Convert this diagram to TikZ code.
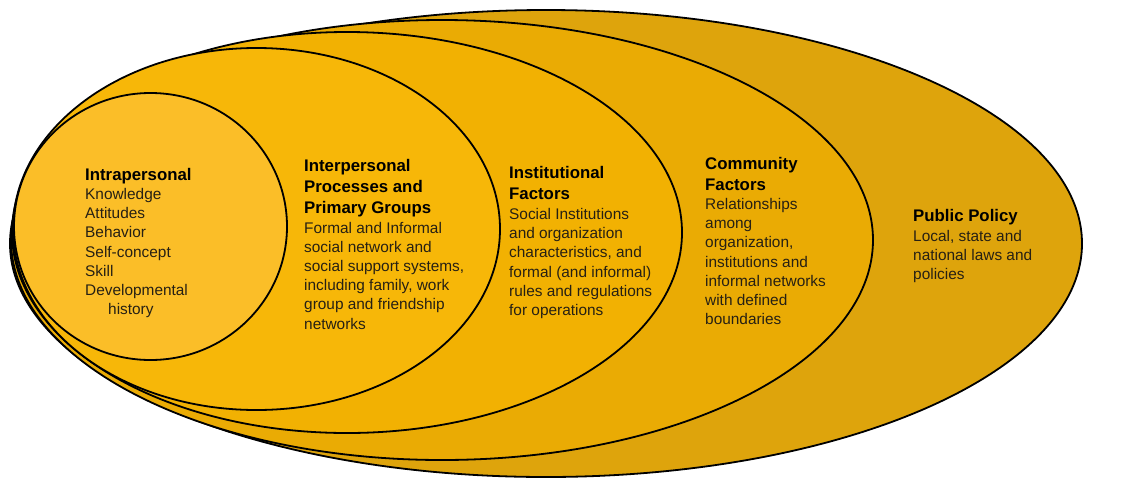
\documentclass[tikz,border=0pt]{standalone}
\usepackage{fontspec}
\setmainfont{Liberation Sans}
\definecolor{cPolicy}{RGB}{222,164,12}
\definecolor{cCommunity}{RGB}{234,171,4}
\definecolor{cInstitution}{RGB}{242,177,2}
\definecolor{cInterp}{RGB}{247,183,8}
\definecolor{cIntra}{RGB}{251,190,40}
\definecolor{bodytext}{RGB}{38,32,20}
\begin{document}
\begin{tikzpicture}[x=1pt,y=-1pt,
  ring/.style={draw=black,line width=1.8pt},
  head/.style={anchor=base west,inner sep=0pt,align=left,text=black,
    font=\bfseries\fontsize{16.8}{21}\selectfont},
  body/.style={anchor=base west,inner sep=0pt,align=left,text=bodytext,
    font=\fontsize{15.4}{19.2}\selectfont}]
\useasboundingbox (0,0) rectangle (1122,499);
% rings, outermost first
\path[ring,fill=cPolicy]      (546,243.5) ellipse [x radius=536pt,y radius=233.5pt];
\path[ring,fill=cCommunity]   (442,240)   ellipse [x radius=431pt,y radius=220pt];
\path[ring,fill=cInstitution] (347,232.5) ellipse [x radius=335pt,y radius=200.5pt];
\path[ring,fill=cInterp]      (256.5,229) ellipse [x radius=243.5pt,y radius=181pt];
\path[ring,fill=cIntra]       (150.5,226.5) ellipse [x radius=136.5pt,y radius=133.5pt];
% Intrapersonal (anchors are at the baseline of the last line)
\node[head] (intraH) at (85,180) {Intrapersonal};
\node[body] (intraB) at (85,314.7) {Knowledge\\Attitudes\\Behavior\\Self-concept\\Skill\\Developmental\\\hspace*{23pt}history};
% Interpersonal
\node[head] (interH) at (304,213) {Interpersonal\\Processes and\\Primary Groups};
\node[body] (interB) at (304,329) {Formal and Informal\\social network and\\social support systems,\\including family, work\\group and friendship\\networks};
% Institutional
\node[head] (instH) at (509,199) {Institutional\\Factors};
\node[body] (instB) at (509,315.5) {Social Institutions\\and organization\\characteristics, and\\formal (and informal)\\rules and regulations\\for operations};
% Community
\node[head] (commH) at (705,190) {Community\\Factors};
\node[body] (commB) at (705,324.7) {Relationships\\among\\organization,\\institutions and\\informal networks\\with defined\\boundaries};
% Public policy
\node[head] (polH) at (913,221) {Public Policy};
\node[body] (polB) at (913,279.9) {Local, state and\\national laws and\\policies};
\end{tikzpicture}
\end{document}
